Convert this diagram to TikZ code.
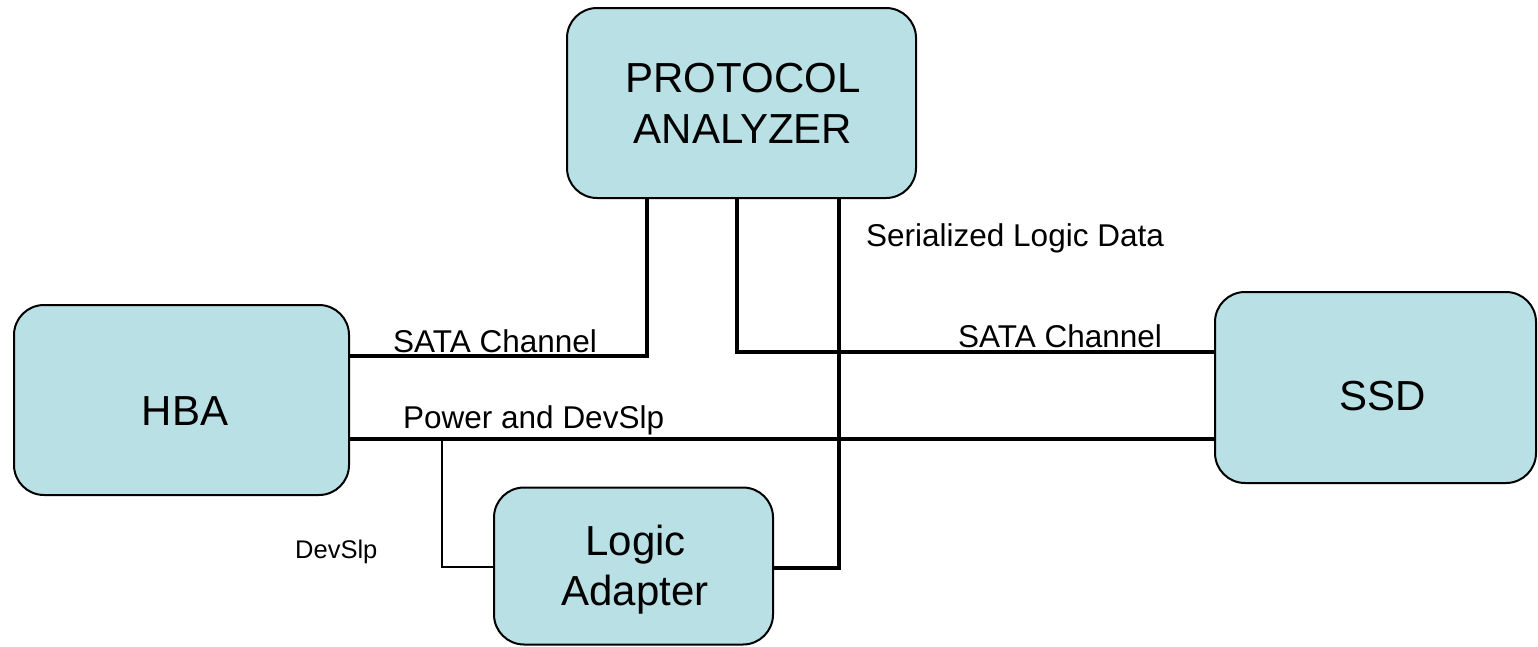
\documentclass[tikz,border=0pt]{standalone}
\usepackage{fontspec}
\setmainfont{Liberation Sans}
\definecolor{boxfill}{RGB}{185,224,228}
\begin{document}
\begin{tikzpicture}[x=1pt,y=-1pt,
  box/.style={draw=black, line width=2pt, fill=boxfill, rounded corners=30pt, inner sep=0pt},
  boxtext/.style={font=\fontsize{42}{51}\selectfont, inner sep=0pt, align=center},
  lbl/.style={font=\fontsize{31.5}{37}\selectfont, inner sep=0pt, anchor=base west},
  smalllbl/.style={font=\fontsize{25.5}{30}\selectfont, inner sep=0pt, anchor=base west},
  wire/.style={line width=3.2pt},
  thinwire/.style={line width=1.3pt}]
\useasboundingbox (0,0) rectangle (1538,646);
% boxes
\node[box, minimum width=349pt, minimum height=190pt] (pa) at (741.5,103) {};
\node[box, minimum width=335pt, minimum height=190pt] (hba) at (181.5,400) {};
\node[box, minimum width=321pt, minimum height=191pt] (ssd) at (1375.5,387.5) {};
\node[box, minimum width=279pt, minimum height=157pt] (la) at (633.5,566) {};
% box texts
\node[boxtext, anchor=base] (pat1) at (743,92) {PROTOCOL};
\node[boxtext, anchor=base] (pat2) at (743,143) {ANALYZER};
\node[boxtext, anchor=base] (hbat) at (185,425) {HBA};
\node[boxtext, anchor=base] (ssdt) at (1383,410) {SSD};
\node[boxtext, anchor=base] (lat1) at (635.5,555) {Logic};
\node[boxtext, anchor=base] (lat2) at (635,605) {Adapter};
% wires
\coordinate (j1) at (647,356);
\draw[wire] (j1 -| hba.east) -- (j1) -- (j1 |- pa.south);
\coordinate (j2) at (737,352);
\draw[wire] (j2 |- pa.south) -- (j2) -- (j2 -| ssd.west);
\coordinate (j3) at (839,568);
\draw[wire] (j3 |- pa.south) -- (j3) -- (j3 -| la.east);
\coordinate (p1) at (442,439);
\draw[wire] (p1 -| hba.east) -- (p1 -| ssd.west);
\coordinate (j4) at (442,567);
\draw[thinwire] (p1) -- (j4) -- (j4 -| la.west);
% labels
\node[lbl] (l1) at (393,352) {SATA Channel};
\node[lbl] (l2) at (958,347) {SATA Channel};
\node[lbl] (l3) at (403,428) {Power and DevSlp};
\node[lbl] (l4) at (866,246) {Serialized Logic Data};
\node[smalllbl] (l5) at (295,558) {DevSlp};
\end{tikzpicture}
\end{document}
